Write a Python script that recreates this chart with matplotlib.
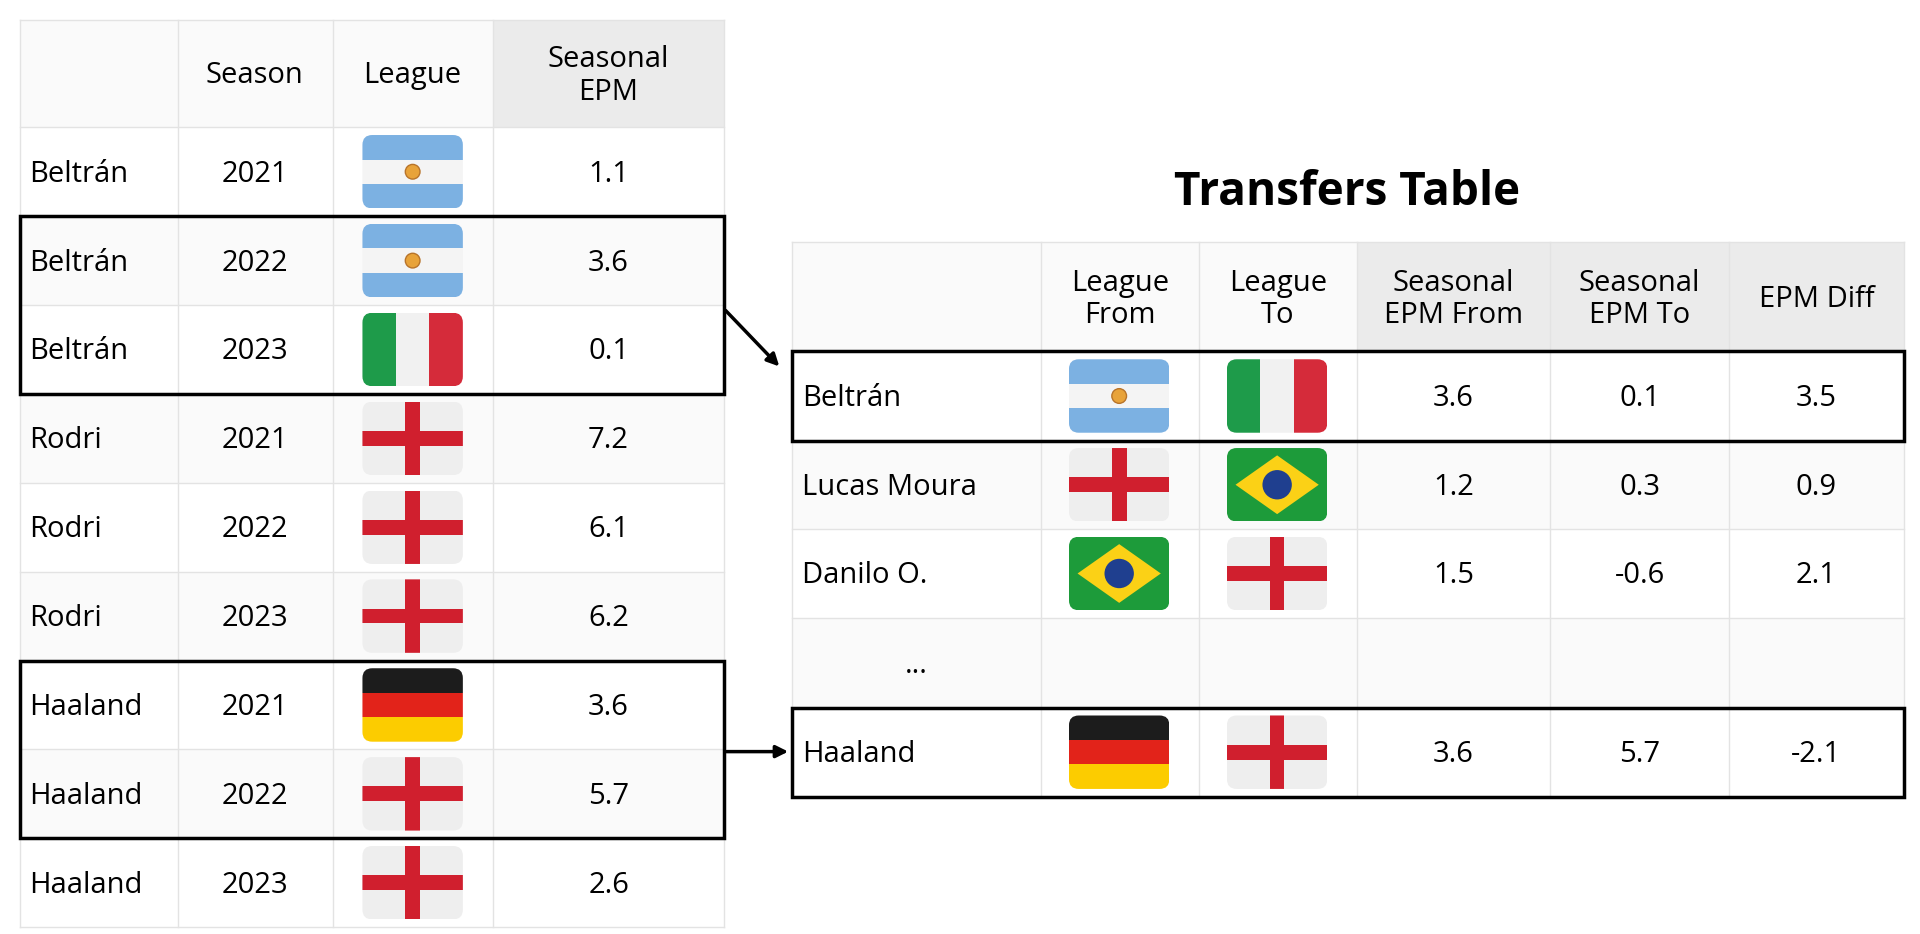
import numpy as np
import matplotlib.pyplot as plt
from matplotlib.patches import Rectangle, FancyBboxPatch, Circle, Polygon

plt.rcParams['font.family'] = ['Open Sans', 'DejaVu Sans']

# left table data
left_players = ["Beltrán", "Beltrán", "Beltrán", "Rodri", "Rodri", "Rodri", "Haaland", "Haaland", "Haaland"]
left_seasons = [2021, 2022, 2023, 2021, 2022, 2023, 2021, 2022, 2023]
left_leagues = ["ARG", "ARG", "ITA", "ENG", "ENG", "ENG", "GER", "ENG", "ENG"]
left_epm = [1.1, 3.6, 0.1, 7.2, 6.1, 6.2, 3.6, 5.7, 2.6]

# right table data
right_players = ["Beltrán", "Lucas Moura", "Danilo O.", "...", "Haaland"]
right_from = ["ARG", "ENG", "BRA", None, "GER"]
right_to = ["ITA", "BRA", "ENG", None, "ENG"]
right_epm_from = [3.6, 1.2, 1.5, None, 3.6]
right_epm_to = [0.1, 0.3, -0.6, None, 5.7]
right_diff = [3.5, 0.9, 2.1, None, -2.1]

GRID = "#e3e3e3"
HEAD = "#ebebeb"
ALT = "#fafafa"
FS = 21

fig = plt.figure(figsize=(19.2, 9.34), dpi=100)
ax = fig.add_axes([0, 0, 1, 1])
ax.set_xlim(0, 1568)
ax.set_ylim(763, 0)
ax.axis("off")


def flag(cx, cy, code, w=82, h=60):
    x0, y0 = cx - w / 2, cy - h / 2
    clip = FancyBboxPatch((x0, y0), w, h, boxstyle="round,pad=0,rounding_size=8",
                          fc="none", ec="none")
    ax.add_patch(clip)
    parts = []
    if code == "ARG":
        parts += [Rectangle((x0, y0), w, h / 3, fc="#7cb1e2"),
                  Rectangle((x0, y0 + h / 3), w, h / 3, fc="#f4f4f4"),
                  Rectangle((x0, y0 + 2 * h / 3), w, h / 3, fc="#7cb1e2"),
                  Circle((cx, cy), 6, fc="#e8a33a", ec="#b8742a", lw=1)]
    elif code == "ITA":
        parts += [Rectangle((x0, y0), w / 3, h, fc="#1e9b4a"),
                  Rectangle((x0 + w / 3, y0), w / 3, h, fc="#f1f1f1"),
                  Rectangle((x0 + 2 * w / 3, y0), w / 3, h, fc="#d52b3a")]
    elif code == "ENG":
        parts += [Rectangle((x0, y0), w, h, fc="#eeeeee"),
                  Rectangle((x0, cy - 6), w, 12, fc="#d01f2e"),
                  Rectangle((cx - 6, y0), 12, h, fc="#d01f2e")]
    elif code == "GER":
        parts += [Rectangle((x0, y0), w, h / 3, fc="#1c1c1c"),
                  Rectangle((x0, y0 + h / 3), w, h / 3, fc="#e2231a"),
                  Rectangle((x0, y0 + 2 * h / 3), w, h / 3, fc="#fccc00")]
    elif code == "BRA":
        parts += [Rectangle((x0, y0), w, h, fc="#1d9b3a"),
                  Polygon([(x0 + 7, cy), (cx, y0 + 6), (x0 + w - 7, cy), (cx, y0 + h - 6)],
                          fc="#fbd116"),
                  Circle((cx, cy), 12, fc="#1f3f8f")]
    for p in parts:
        ax.add_patch(p)
        p.set_clip_path(clip)


def table(xs, ys, head_gray, alt_rows):
    for i in range(len(ys) - 1):
        if i in alt_rows:
            ax.add_patch(Rectangle((xs[0], ys[i]), xs[-1] - xs[0], ys[i + 1] - ys[i],
                                   fc=ALT, ec="none", zorder=0))
    for j in head_gray:
        ax.add_patch(Rectangle((xs[j], ys[0]), xs[j + 1] - xs[j], ys[1] - ys[0],
                               fc=HEAD, ec="none", zorder=0))
    for x in xs:
        ax.plot([x, x], [ys[0], ys[-1]], color=GRID, lw=1, zorder=1)
    for y in ys:
        ax.plot([xs[0], xs[-1]], [y, y], color=GRID, lw=1, zorder=1)


# ---- left table
lx = [16, 145, 272, 403, 591]
ly = [16, 104] + [104 + 72.6 * (k + 1) for k in range(9)]
table(lx, ly, [3], [0, 2, 4, 6, 8])
hy = (ly[0] + ly[1]) / 2 + 2
ax.text(208, hy, "Season", ha="center", va="center", fontsize=FS)
ax.text(337, hy, "League", ha="center", va="center", fontsize=FS)
ax.text(497, hy, "Seasonal\nEPM", ha="center", va="center", fontsize=FS, linespacing=1.15)
for i in range(9):
    cy = (ly[i + 1] + ly[i + 2]) / 2
    ty = cy + 2
    ax.text(24, ty, left_players[i], ha="left", va="center", fontsize=FS)
    ax.text(208, ty, str(left_seasons[i]), ha="center", va="center", fontsize=FS)
    flag(337, cy, left_leagues[i])
    ax.text(497, ty, f"{left_epm[i]:.1f}", ha="center", va="center", fontsize=FS)

# ---- right table
rx = [647, 850, 979, 1108, 1266, 1412, 1555]
ry = [198, 287, 360, 432, 505, 578, 651]
table(rx, ry, [3, 4, 5], [0, 2, 4])
ax.text(1100, 157, "Transfers Table", ha="center", va="center", fontsize=33, fontweight="bold")
hy = (ry[0] + ry[1]) / 2 + 2
heads = ["League\nFrom", "League\nTo", "Seasonal\nEPM From", "Seasonal\nEPM To", "EPM Diff"]
for j, t in enumerate(heads):
    ax.text((rx[j + 1] + rx[j + 2]) / 2, hy, t, ha="center", va="center",
            fontsize=FS, linespacing=1.15)
for i in range(5):
    cy = (ry[i + 1] + ry[i + 2]) / 2
    ty = cy + 2
    if right_players[i] == "...":
        ax.text(748, ty, "...", ha="center", va="center", fontsize=FS)
        continue
    ax.text(655, ty, right_players[i], ha="left", va="center", fontsize=FS)
    flag(914, cy, right_from[i])
    flag(1043, cy, right_to[i])
    ax.text(1187, ty, f"{right_epm_from[i]:.1f}", ha="center", va="center", fontsize=FS)
    ax.text(1339, ty, f"{right_epm_to[i]:.1f}", ha="center", va="center", fontsize=FS)
    ax.text(1483, ty, f"{right_diff[i]:.1f}", ha="center", va="center", fontsize=FS)

# ---- highlight boxes
for x0, x1, y0, y1 in [(16, 591, ly[2], ly[4]), (16, 591, ly[7], ly[9]),
                       (647, 1555, ry[1], ry[2]), (647, 1555, ry[5], ry[6])]:
    ax.add_patch(Rectangle((x0, y0), x1 - x0, y1 - y0, fc="none", ec="black", lw=2.5, zorder=5))

# ---- arrows
ax.annotate("", xy=(638, 301), xytext=(591, 252),
            arrowprops=dict(arrowstyle="-|>", color="black", lw=2.5, mutation_scale=18))
ax.annotate("", xy=(646, 614), xytext=(591, 614),
            arrowprops=dict(arrowstyle="-|>", color="black", lw=2.5, mutation_scale=18))

fig.savefig("out.png", dpi=100)
